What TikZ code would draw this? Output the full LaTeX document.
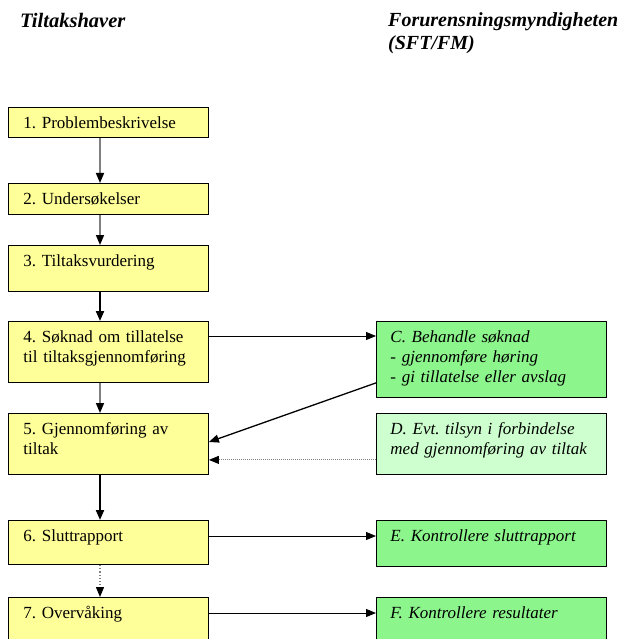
\documentclass[tikz,border=0pt]{standalone}
\usepackage{fontspec}
\setmainfont{Liberation Serif}
\usepackage{xcolor}
\usetikzlibrary{arrows.meta}
\definecolor{ownerfill}{RGB}{255,255,153}
\definecolor{authfill}{RGB}{140,245,140}
\definecolor{visitfill}{RGB}{206,255,206}
\definecolor{lightline}{RGB}{128,128,128}

\begin{document}
\frenchspacing
\begin{tikzpicture}[x=1pt, y=-1pt, >={Triangle[length=10pt,width=8pt,color=black]}]
        \tikzstyle{ownerbox}=[draw, line width=0.9pt, fill=ownerfill, anchor=north west, align=left,
            text width=170pt, inner xsep=15pt, inner ysep=7pt, text height=14pt,
            font=\fontsize{17}{20}\selectfont]
        \tikzstyle{authbox}=[ownerbox, fill=authfill, text width=202pt, inner xsep=14pt,
            font=\fontsize{17}{20}\selectfont\itshape]
        \tikzstyle{header}=[anchor=base west, inner sep=0pt, align=left,
            font=\fontsize{20.5}{23}\selectfont\bfseries\itshape]
        \tikzstyle{greyarrow}=[->, draw=lightline, line width=1.5pt]
        \tikzstyle{blackarrow}=[->, line width=2pt]
        \tikzstyle{sidearrow}=[->, line width=1pt]
        \clip (0,0) rectangle (624,639);
        \coordinate (spine) at (100,0);
        % column headers
        \node[header] (owner) at (20,28) {Tiltakshaver};
        \node[header, font=\fontsize{20}{23}\selectfont\bfseries\itshape] (authority) at (388,50) {Forurensningsmyndigheten\\(SFT/FM)};
        % steps of the owner
        \node[ownerbox, text depth=2pt] (p1) at (8,107) {1. Problembeskrivelse};
        \node[ownerbox, text depth=3pt] (p2) at (8,183) {2. Undersøkelser};
        \node[ownerbox, text depth=18pt] (p3) at (8,245) {3. Tiltaksvurdering};
        \node[ownerbox, text depth=33pt] (p4) at (8,321) {4. Søknad om tillatelse\\til tiltaksgjennomføring};
        \node[ownerbox, text depth=33pt] (p5) at (8,413) {5. Gjennomføring av\\tiltak};
        \node[ownerbox, text depth=16pt] (p6) at (8,520) {6. Sluttrapport};
        \node[ownerbox, text depth=36pt] (p7) at (8,597) {7. Overvåking};
        % tasks of the authority
        \node[authbox, text depth=48pt] (fc) at (376,321) {C. Behandle søknad\\- gjennomføre høring\\- gi tillatelse eller avslag};
        \node[authbox, fill=visitfill, text depth=33pt] (fd) at (376,413) {D. Evt. tilsyn i forbindelse\\med gjennomføring av tiltak};
        \node[authbox, text depth=18pt] (fe) at (376,520) {E. Kontrollere sluttrapport};
        \node[authbox, text depth=36pt] (ff) at (376,597) {F. Kontrollere resultater};
        % flow down the left column
        \draw[greyarrow] (p1.south -| spine) -- (p2.north -| spine);
        \draw[greyarrow] (p2.south -| spine) -- (p3.north -| spine);
        \draw[blackarrow] (p3.south -| spine) -- (p4.north -| spine);
        \draw[greyarrow] (p4.south -| spine) -- (p5.north -| spine);
        \draw[blackarrow] (p5.south -| spine) -- (p6.north -| spine);
        \draw[->, draw=lightline, line width=1.2pt, dotted] (p6.south -| spine) -- (p7.north -| spine);
        % across to the authority and back
        \draw[sidearrow] ([yshift=-15pt]p4.north east) -- ([yshift=-15pt]fc.north west);
        \draw[->, line width=1.3pt] ([yshift=15pt]fc.south west) -- ([yshift=-29pt]p5.north east);
        \draw[->, draw=lightline, line width=1pt, densely dotted] ([yshift=15pt]fd.south west) -- ([yshift=15pt]p5.south east);
        \draw[sidearrow] ([yshift=-16pt]p6.north east) -- ([yshift=-16pt]fe.north west);
        \draw[sidearrow] ([yshift=-16pt]p7.north east) -- ([yshift=-16pt]ff.north west);
    \end{tikzpicture}
\end{document}
